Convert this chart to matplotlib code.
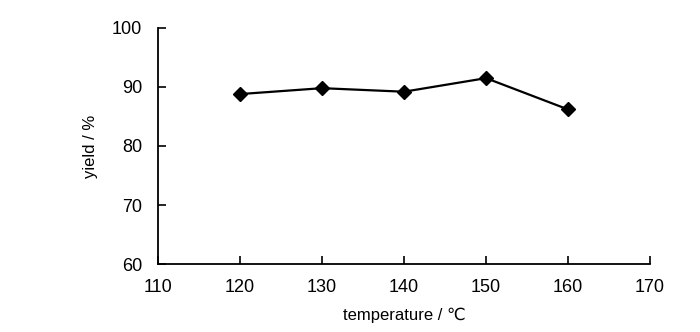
import matplotlib
matplotlib.use("Agg")
import matplotlib.pyplot as plt

# reaction temperature vs. yield
temperature = [120, 130, 140, 150, 160]
yield_pct = [88.8, 89.8, 89.2, 91.5, 86.2]

x_ticks = [110, 120, 130, 140, 150, 160, 170]
y_ticks = [60, 70, 80, 90, 100]

plt.rcParams['font.family'] = ['Liberation Sans', 'DejaVu Sans']

fig = plt.figure(figsize=(7, 3.32), dpi=100)
ax = fig.add_axes([0.2257, 0.2048, 0.7029, 0.7109])

ax.plot(temperature, yield_pct, color='black', linewidth=1.6,
        marker='D', markersize=7.5, markerfacecolor='black', markeredgecolor='black')

ax.set_xlim(110, 170)
ax.set_ylim(60, 100)
ax.set_xticks(x_ticks)
ax.set_yticks(y_ticks)

ax.spines['top'].set_visible(False)
ax.spines['right'].set_visible(False)
for s in ('left', 'bottom'):
    ax.spines[s].set_linewidth(1.3)

ax.tick_params(direction='in', length=6, width=1.2, labelsize=13)
ax.tick_params(axis='y', pad=11.5)
ax.tick_params(axis='x', pad=10.5)

ax.set_xlabel('temperature / ℃', fontsize=12, labelpad=9)
ax.set_ylabel('yield / %', fontsize=12, labelpad=10)

fig.savefig('out.png', dpi=100)
